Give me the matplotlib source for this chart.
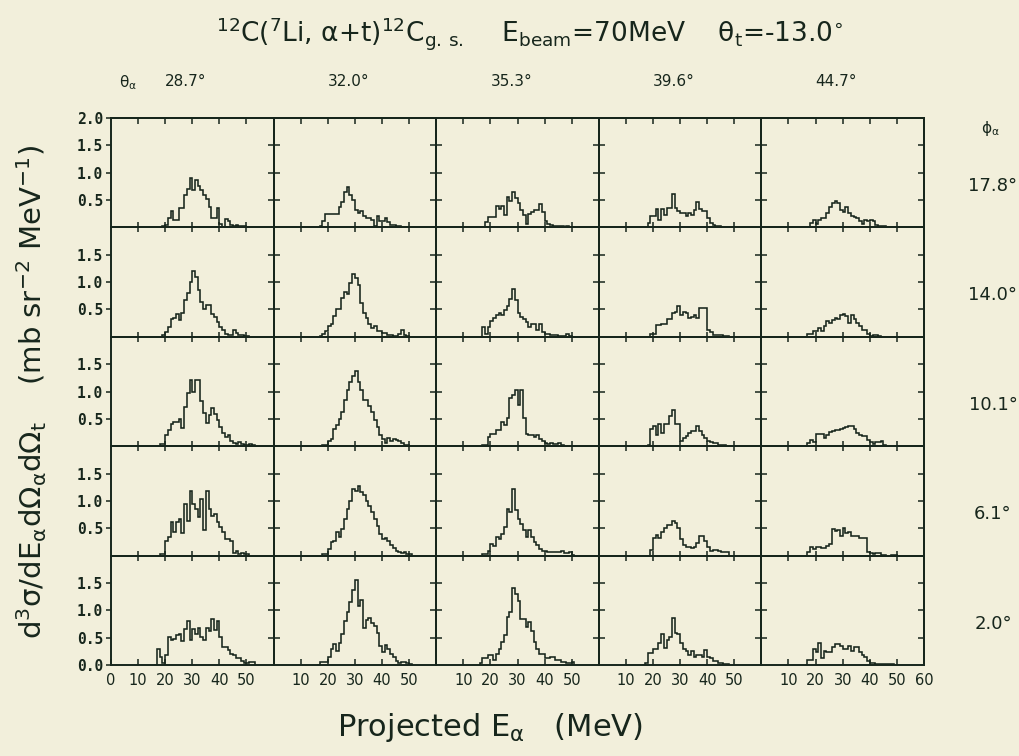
import numpy as np
import matplotlib
matplotlib.use("Agg")
import matplotlib.pyplot as plt

# ---------------------------------------------------------------------------
# Projected alpha-energy spectra, 12C(7Li, alpha+t)12C g.s., E_beam = 70 MeV
# Each list holds d3sigma/dE dOmega dOmega (mb sr^-2 MeV^-1) in 1 MeV bins,
# first bin starting at E_START.
# ---------------------------------------------------------------------------
E_START = 16.0
BIN_WIDTH = 1.0

THETA_ALPHA = ["28.7°", "32.0°", "35.3°", "39.6°", "44.7°"]
PHI_ALPHA = ["17.8°", "14.0°", "10.1°", "6.1°", "2.0°"]

SPEC_PHI_17_8 = [
    [0, 0, 0, 0.02, 0.05, 0.17, 0.30, 0.14, 0.14, 0.36, 0.36, 0.59, 0.70, 0.90, 0.68, 0.86, 0.75, 0.68,
     0.60, 0.52, 0.37, 0.17, 0.17, 0.36, 0.06, 0.01, 0.15, 0.11, 0.05, 0.03, 0.05, 0.03, 0.02, 0.03, 0.01, 0.01],
    [0, 0.03, 0.12, 0.25, 0.25, 0.25, 0.25, 0.25, 0.37, 0.46, 0.65, 0.73, 0.60, 0.50, 0.31, 0.27, 0.30, 0.20,
     0.17, 0.17, 0.13, 0.03, 0.20, 0.11, 0.11, 0.18, 0.09, 0.05, 0.05, 0.02, 0.02, 0.01, 0.01, 0.01],
    [0, 0, 0.09, 0.19, 0.19, 0.19, 0.39, 0.34, 0.39, 0.22, 0.56, 0.48, 0.64, 0.53, 0.44, 0.31, 0.22, 0.06,
     0.25, 0.28, 0.31, 0.31, 0.42, 0.28, 0.12, 0.06, 0.04, 0.03, 0.03, 0.02, 0.02, 0.01, 0.02, 0.01],
    [0, 0, 0.08, 0.20, 0.20, 0.33, 0.14, 0.33, 0.23, 0.36, 0.36, 0.61, 0.36, 0.30, 0.27, 0.27, 0.20, 0.27,
     0.23, 0.31, 0.46, 0.33, 0.30, 0.30, 0.17, 0.08, 0.04, 0.02, 0.02, 0.01],
    [0, 0, 0.08, 0.14, 0.07, 0.14, 0.17, 0.17, 0.27, 0.38, 0.45, 0.48, 0.44, 0.31, 0.29, 0.38, 0.27, 0.21,
     0.19, 0.17, 0.11, 0.07, 0.14, 0.11, 0.13, 0.12, 0.04, 0.03, 0.02, 0.02, 0.01],
]

SPEC_PHI_14_0 = [
    [0, 0, 0, 0.04, 0.09, 0.18, 0.32, 0.35, 0.42, 0.30, 0.44, 0.67, 0.80, 1.00, 1.20, 1.09, 0.85, 0.64,
     0.50, 0.59, 0.58, 0.42, 0.36, 0.27, 0.18, 0.12, 0.06, 0.03, 0.03, 0.12, 0.07, 0.04, 0.04, 0.01, 0.01],
    [0, 0.02, 0.06, 0.10, 0.20, 0.24, 0.38, 0.51, 0.51, 0.71, 0.82, 0.79, 0.99, 1.14, 1.08, 0.95, 0.62, 0.44,
     0.35, 0.24, 0.16, 0.20, 0.10, 0.10, 0.07, 0.07, 0.04, 0.03, 0.02, 0.02, 0.06, 0.13, 0.04, 0.02],
    [0, 0.18, 0.05, 0.18, 0.29, 0.35, 0.40, 0.43, 0.40, 0.49, 0.56, 0.70, 0.88, 0.67, 0.43, 0.37, 0.32, 0.27,
     0.18, 0.24, 0.24, 0.12, 0.23, 0.09, 0.05, 0.05, 0.03, 0.03, 0.03, 0.02, 0.02, 0.02, 0.05, 0.02],
    [0, 0, 0, 0.06, 0.06, 0.21, 0.21, 0.23, 0.23, 0.33, 0.33, 0.43, 0.46, 0.57, 0.40, 0.46, 0.43, 0.35,
     0.37, 0.40, 0.35, 0.52, 0.52, 0.52, 0.12, 0.08, 0.04, 0.03, 0.03, 0.03, 0.02, 0.02],
    [0, 0.05, 0.05, 0.11, 0.11, 0.17, 0.11, 0.20, 0.29, 0.26, 0.30, 0.35, 0.32, 0.39, 0.42, 0.38, 0.26, 0.39,
     0.33, 0.26, 0.20, 0.13, 0.13, 0.05, 0.02, 0.03, 0.03, 0.02],
]

SPEC_PHI_10_1 = [
    [0, 0, 0.04, 0.04, 0.20, 0.30, 0.40, 0.45, 0.45, 0.49, 0.33, 0.72, 0.97, 1.21, 1.00, 1.21, 1.21, 0.83,
     0.61, 0.42, 0.57, 0.69, 0.59, 0.48, 0.36, 0.25, 0.17, 0.20, 0.10, 0.06, 0.04, 0.07, 0.04, 0.02, 0.02,
     0.04, 0.02],
    [0, 0, 0.02, 0.02, 0.10, 0.13, 0.32, 0.38, 0.50, 0.62, 0.84, 1.02, 1.17, 1.29, 1.37, 1.17, 1.02, 0.85,
     0.84, 0.74, 0.62, 0.47, 0.35, 0.20, 0.13, 0.06, 0.15, 0.10, 0.13, 0.12, 0.10, 0.06, 0.02, 0.02, 0.01],
    [0, 0.03, 0.03, 0.17, 0.23, 0.23, 0.29, 0.29, 0.45, 0.39, 0.51, 0.88, 0.94, 1.02, 0.76, 1.02, 0.51, 0.23,
     0.20, 0.20, 0.17, 0.20, 0.14, 0.10, 0.06, 0.04, 0.06, 0.04, 0.04, 0.05, 0.02],
    [0, 0, 0.03, 0.31, 0.37, 0.21, 0.40, 0.25, 0.40, 0.40, 0.55, 0.66, 0.41, 0.40, 0.09, 0.15, 0.18, 0.25,
     0.28, 0.28, 0.37, 0.28, 0.21, 0.15, 0.10, 0.08, 0.06, 0.06, 0.03, 0.03, 0.03, 0.01, 0.01],
    [0, 0.06, 0.12, 0.07, 0.23, 0.23, 0.23, 0.15, 0.21, 0.26, 0.28, 0.30, 0.29, 0.32, 0.34, 0.35, 0.37, 0.37,
     0.31, 0.24, 0.21, 0.19, 0.18, 0.12, 0.08, 0.04, 0.07, 0.08, 0.09, 0.03],
]

SPEC_PHI_6_1 = [
    [0, 0, 0.03, 0.03, 0.27, 0.34, 0.61, 0.43, 0.61, 0.67, 0.41, 0.95, 0.64, 1.19, 0.95, 0.85, 0.70, 1.04,
     0.46, 1.19, 0.85, 0.73, 0.76, 0.61, 0.52, 0.43, 0.30, 0.30, 0.27, 0.04, 0.08, 0.03, 0.05, 0.03, 0.03],
    [0, 0, 0.03, 0.03, 0.12, 0.24, 0.27, 0.43, 0.34, 0.49, 0.67, 0.85, 1.00, 1.22, 1.19, 1.28, 1.16, 1.10,
     1.00, 0.91, 0.79, 0.67, 0.55, 0.40, 0.30, 0.32, 0.27, 0.20, 0.13, 0.09, 0.07, 0.05, 0.06, 0.03, 0.03],
    [0, 0.03, 0.03, 0.09, 0.21, 0.18, 0.34, 0.31, 0.40, 0.52, 0.86, 0.80, 1.21, 0.83, 0.67, 0.58, 0.47, 0.34,
     0.46, 0.34, 0.25, 0.20, 0.12, 0.09, 0.08, 0.06, 0.06, 0.06, 0.06, 0.06, 0.09, 0.04, 0.04, 0.06, 0.02],
    [0, 0, 0, 0.10, 0.33, 0.38, 0.32, 0.43, 0.50, 0.56, 0.56, 0.63, 0.59, 0.50, 0.30, 0.20, 0.15, 0.15,
     0.13, 0.16, 0.23, 0.35, 0.35, 0.27, 0.16, 0.09, 0.10, 0.10, 0.09, 0.06, 0.06, 0.06],
    [0, 0.06, 0.15, 0.12, 0.15, 0.15, 0.13, 0.13, 0.17, 0.21, 0.48, 0.45, 0.47, 0.36, 0.50, 0.42, 0.44, 0.36,
     0.36, 0.35, 0.33, 0.33, 0.33, 0.07, 0.05, 0.03, 0.05, 0.05, 0.02, 0.02, 0, 0, 0.02, 0.02],
]

SPEC_PHI_2_0 = [
    [0, 0.30, 0.15, 0.03, 0.18, 0.51, 0.45, 0.48, 0.54, 0.56, 0.44, 0.66, 0.81, 0.45, 0.66, 0.57, 0.68, 0.51,
     0.45, 0.68, 0.62, 0.84, 0.64, 0.81, 0.51, 0.33, 0.33, 0.27, 0.21, 0.18, 0.12, 0.12, 0.08, 0.04, 0.04,
     0.06, 0.06],
    [0, 0.05, 0.05, 0.05, 0.14, 0.29, 0.38, 0.26, 0.41, 0.56, 0.80, 0.96, 1.16, 1.37, 1.55, 1.07, 1.19, 0.68,
     0.83, 0.86, 0.77, 0.72, 0.59, 0.35, 0.23, 0.36, 0.29, 0.20, 0.14, 0.08, 0.04, 0.05, 0.05, 0.04, 0.02],
    [0.03, 0.12, 0.12, 0.18, 0.18, 0.09, 0.21, 0.30, 0.42, 0.54, 0.87, 0.96, 1.40, 1.30, 1.17, 0.84, 0.84,
     0.69, 0.78, 0.63, 0.42, 0.30, 0.21, 0.21, 0.12, 0.12, 0.15, 0.15, 0.09, 0.09, 0.05, 0.05, 0.03, 0.03,
     0.05],
    [0, 0.03, 0.22, 0.22, 0.29, 0.29, 0.40, 0.56, 0.31, 0.46, 0.52, 0.86, 0.59, 0.56, 0.41, 0.29, 0.25, 0.19,
     0.25, 0.15, 0.19, 0.19, 0.14, 0.27, 0.15, 0.12, 0.08, 0.08, 0.04, 0.04, 0.02, 0.02],
    [0, 0.10, 0.10, 0.29, 0.23, 0.41, 0.12, 0.26, 0.23, 0.23, 0.32, 0.38, 0.38, 0.35, 0.29, 0.29, 0.35, 0.26,
     0.32, 0.32, 0.23, 0.19, 0.14, 0.07, 0.04, 0.04, 0.02, 0.02, 0.01, 0.01, 0.02, 0.02, 0.01],
]

SPECTRA = [SPEC_PHI_17_8, SPEC_PHI_14_0, SPEC_PHI_10_1, SPEC_PHI_6_1, SPEC_PHI_2_0]

# ---------------------------------------------------------------------------
# Styling
# ---------------------------------------------------------------------------
BG = "#f2efdb"
INK = "#17261c"
SANS = ["DejaVu Sans"]

plt.rcParams["font.family"] = SANS
# upright Greek letters and symbols in math text
plt.rcParams["mathtext.fontset"] = "custom"
plt.rcParams["mathtext.rm"] = "DejaVu Sans"
plt.rcParams["mathtext.it"] = "DejaVu Sans"
plt.rcParams["mathtext.bf"] = "DejaVu Sans:bold"
plt.rcParams["mathtext.sf"] = "DejaVu Sans"
plt.rcParams["text.color"] = INK

FIG_W, FIG_H = 1020, 756
fig = plt.figure(figsize=(FIG_W / 100, FIG_H / 100), dpi=100, facecolor=BG)

# panel grid in pixel coordinates
GRID_L, GRID_R, GRID_T, GRID_B = 111, 924, 118, 665
NCOL, NROW = 5, 5
PW = (GRID_R - GRID_L) / NCOL
PH = (GRID_B - GRID_T) / NROW


def fx(px):
    return px / FIG_W


def fy(py):
    return 1 - py / FIG_H


for r in range(NROW):
    for c in range(NCOL):
        x0 = GRID_L + c * PW
        y0 = GRID_T + r * PH
        ax = fig.add_axes([fx(x0), fy(y0 + PH), PW / FIG_W, PH / FIG_H])
        ax.set_facecolor("none")
        ax.set_xlim(0, 60)
        ax.set_ylim(0, 2.0)
        for sp in ax.spines.values():
            sp.set_color(INK)
            sp.set_linewidth(1.4)

        vals = np.asarray(SPECTRA[r][c], dtype=float)
        edges = E_START + BIN_WIDTH * np.arange(len(vals) + 1)
        ax.stairs(vals, edges, baseline=0, color=INK, lw=1.15)

        # x ticks
        if r == NROW - 1:
            if c == 0:
                xt = [0, 10, 20, 30, 40, 50]
            elif c == NCOL - 1:
                xt = [10, 20, 30, 40, 50, 60]
            else:
                xt = [10, 20, 30, 40, 50]
            ax.set_xticks(xt)
            ax.set_xticklabels([str(v) for v in xt], fontsize=10.5)
            ax.tick_params(axis="x", direction="in", length=4, width=1.1, color=INK,
                           pad=6, labelcolor=INK)
        else:
            ax.set_xticks([10, 20, 30, 40, 50])
            ax.tick_params(axis="x", direction="inout", length=7, width=1.1, color=INK,
                           labelbottom=False)

        # y ticks
        yt = [0.5, 1.0, 1.5]
        if c == 0:
            if r == 0:
                yt = yt + [2.0]
            if r == NROW - 1:
                yt = [0.0] + yt
            ax.set_yticks(yt)
            ax.set_yticklabels([f"{v:.1f}" for v in yt], fontsize=10.5,
                               family="DejaVu Sans Mono", fontweight="bold")
            ax.tick_params(axis="y", direction="out", length=3.5, width=1.1, color=INK,
                           pad=2, labelcolor=INK)
        else:
            ax.set_yticks(yt)
            ax.tick_params(axis="y", direction="inout", length=8, width=1.1, color=INK,
                           labelleft=False)

        # outer frame ticks on the top and right borders
        if r == 0:
            top = ax.secondary_xaxis("top")
            top.set_xticks([10, 20, 30, 40, 50])
            top.tick_params(direction="in", length=4, width=1.1, color=INK, labeltop=False)
            top.spines["top"].set_color(INK)
            top.spines["top"].set_linewidth(1.4)
        if c == NCOL - 1:
            right = ax.secondary_yaxis("right")
            right.set_yticks([0.5, 1.0, 1.5])
            right.tick_params(direction="in", length=4.5, width=1.1, color=INK,
                              labelright=False)
            right.spines["right"].set_color(INK)
            right.spines["right"].set_linewidth(1.4)

# ---------------------------------------------------------------------------
# Annotations
# ---------------------------------------------------------------------------
fig.text(fx(530), fy(34),
         r"$^{12}$C($^{7}$Li, $\alpha$+t)$^{12}$C$_{\mathrm{g.\,s.}}$    "
         r"E$_{\mathrm{beam}}$=70MeV    $\theta_{\mathrm{t}}$=-13.0$^{\circ}$",
         ha="center", va="center", fontsize=19)

fig.text(fx(128), fy(83), r"$\theta_{\alpha}$", ha="center", va="center", fontsize=11)
for c, lab in enumerate(THETA_ALPHA):
    fig.text(fx(GRID_L + c * PW + 75), fy(82), lab, ha="center", va="center", fontsize=11)

fig.text(fx(990), fy(128), r"$\phi_{\alpha}$", ha="center", va="center", fontsize=11)
for r, lab in enumerate(PHI_ALPHA):
    fig.text(fx(993), fy(GRID_T + r * PH + 68), lab, ha="center", va="center", fontsize=13)

fig.text(fx(32), fy(392),
         r"d$^{3}\sigma$/dE$_{\alpha}$d$\Omega_{\alpha}$d$\Omega_{\mathrm{t}}$    "
         r"(mb sr$^{-2}$ MeV$^{-1}$)",
         rotation=90, ha="center", va="center", fontsize=21)

fig.text(fx(490), fy(728), r"Projected E$_{\alpha}$   (MeV)",
         ha="center", va="center", fontsize=22)

fig.savefig("out.png", dpi=100, facecolor=BG)
